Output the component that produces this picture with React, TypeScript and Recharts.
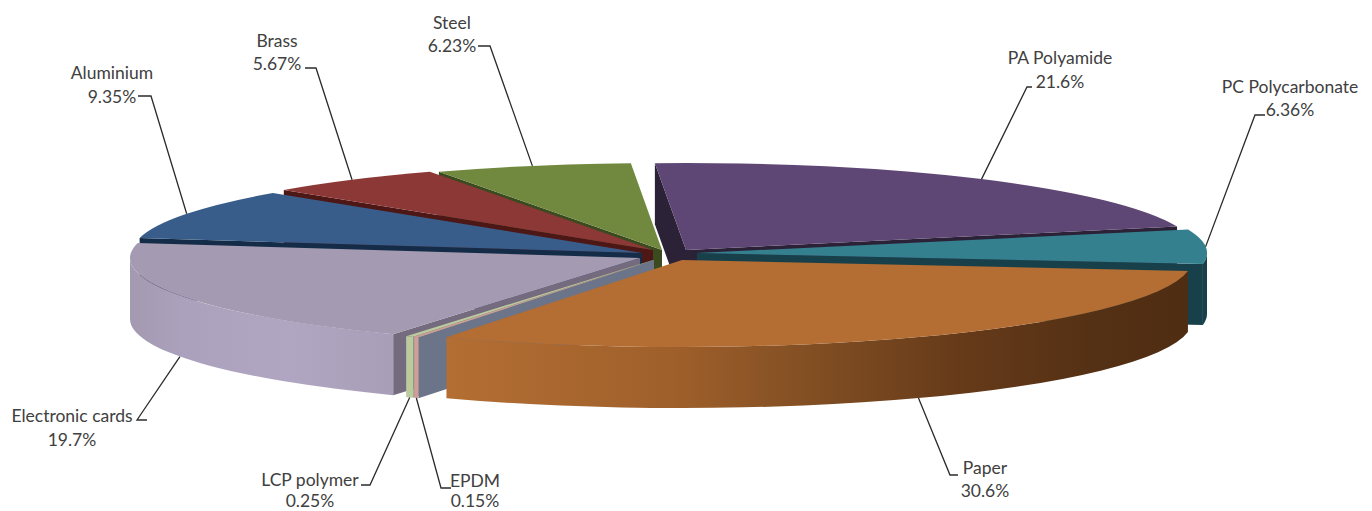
import React from "react";
import { PieChart, Pie } from "recharts";

const materials = ["PA Polyamide", "PC Polycarbonate", "Paper", "EPDM", "LCP polymer", "Electronic cards", "Aluminium", "Brass", "Steel"];
const shares = [21.6, 6.36, 30.6, 0.15, 0.25, 19.7, 9.35, 5.67, 6.23];
const percentLabels = ["21.6%", "6.36%", "30.6%", "0.15%", "0.25%", "19.7%", "9.35%", "5.67%", "6.23%"];

const rows = materials.map((material, i) => ({ material, share: shares[i], text: percentLabels[i] }));

// styling and layout, by slice index
const topColors = ["#5f4775", "#35808f", "#b46d32", "#cf9e9b", "#bccb9f", "#a49ab2", "#385d8a", "#8c3836", "#71893f"];
const faceColors = ["#2b2238", "#17404b", "#5a3416", "#6b7488", "#8a9570", "#756b7f", "#142c47", "#4d1716", "#3b4a1f"];
const rimStops: [number, string][][] = [
  [[0, "#2b2238"]],
  [[0, "#1a3f49"]],
  [[0, "#b36e33"], [0.3, "#a0602b"], [0.475, "#845024"], [0.7, "#653a19"], [0.88, "#543014"], [1, "#4f2d12"]],
  [[0, "#cf9e9b"]],
  [[0, "#bccb9f"]],
  [[0, "#a399b0"], [0.2, "#aca1bc"], [0.6, "#b1a6c1"], [1, "#a99eb8"]],
  [[0, "#2b4669"]],
  [[0, "#6a2a28"]],
  [[0, "#56692f"]],
];
const explode = [[24, -6], [35, -3], [20, 4], [-8, 4], [-9, 4], [-22, 2], [-20, -3], [-9, -6], [0, -6]];
const paintOrder = [8, 7, 6, 0, 1, 5, 4, 3, 2];
const labelCenters = [[1060, 57], [1290, 86], [985, 467], [475, 480], [310, 479], [72, 415], [112, 72], [277, 40], [452, 22]];
const labelLineGap = [24, 23, 23, 20, 21, 24, 24, 23, 23];
const leaderElbows = [[[1032, 87], [1027, 87]], [[1265, 115], [1255, 115]], [[958, 475], [950, 475]], [[451, 488], [441, 488]], [[361, 485], [370, 485]], [[147, 420], [137, 420]], [[138, 96], [151, 96]], [[305, 68], [316, 68]], [[478, 46], [490, 46]]];

const W = 1372;
const H = 511;
const CX = 662;
const CY = 256;
const RX = 510;
const RY = 87;
const DEPTH = 61;
const FONT = "Lato, 'Open Sans', sans-serif";

const rad = (d: number) => (d * Math.PI) / 180;
const onDisc = (cx: number, cy: number, rx: number, i: number, theta: number, down = 0) => {
  const ry = (rx * RY) / RX;
  return [cx + explode[i][0] + rx * Math.sin(rad(theta)), cy + explode[i][1] - ry * Math.cos(rad(theta)) + down];
};

function sliceShape(only: number) {
  return function Slice(props: any) {
    const { index, cx, cy, outerRadius: rx, startAngle, endAngle } = props;
    if (index !== only) return <g />;
    const ry = (rx * RY) / RX;
    const a = 90 - startAngle;
    const b = 90 - endAngle;
    const p = (t: number, down = 0) => onDisc(cx, cy, rx, index, t, down);
    const apex = [cx + explode[index][0], cy + explode[index][1]];
    const large = b - a > 180 ? 1 : 0;
    const top = `M${apex} L${p(a)} A${rx} ${ry} 0 ${large} 1 ${p(b)} Z`;
    const quad = (t: number) => `M${apex} L${p(t)} L${p(t, DEPTH)} L${apex[0]} ${apex[1] + DEPTH} Z`;
    const ra = Math.max(a, 90);
    const rb = Math.min(b, 270);
    const stops = rimStops[index];
    const gid = `rim-${index}`;
    const xs = [p(ra)[0], p(rb)[0], apex[0] - rx, apex[0] + rx];
    const x1 = a < 270 && b > 270 ? xs[2] : Math.min(xs[0], xs[1]);
    const x2 = Math.max(xs[0], xs[1]);
    return (
      <g>
        <defs>
          <linearGradient id={gid} gradientUnits="userSpaceOnUse" x1={x1} x2={x2} y1={0} y2={0}>
            {stops.map(([o, c]) => (
              <stop key={o} offset={o} stopColor={c} />
            ))}
          </linearGradient>
        </defs>
        {Math.sin(rad(a)) < 0 && <path d={quad(a)} fill={faceColors[index]} />}
        {Math.sin(rad(b)) > 0 && <path d={quad(b)} fill={faceColors[index]} />}
        {ra < rb && (
          <path
            d={`M${p(ra)} A${rx} ${ry} 0 0 ${1} ${p(rb)} L${p(rb, DEPTH)} A${rx} ${ry} 0 0 0 ${p(ra, DEPTH)} Z`}
            fill={`url(#${gid})`}
          />
        )}
        <path d={top} fill={topColors[index]} />
      </g>
    );
  };
}

function renderLabel(props: any) {
  const { index, cx, cy, outerRadius: rx, midAngle } = props;
  const row = rows[index];
  const t = 90 - midAngle;
  const front = Math.cos(rad(t)) < 0;
  const end = onDisc(cx, cy, rx, index, t, front ? DEPTH : 0);
  const [c, e] = leaderElbows[index];
  const [lx, ly] = labelCenters[index];
  const style = { fontFamily: FONT, fontSize: 17.5, fill: "#404040" };
  return (
    <g key={row.material}>
      <polyline points={`${c} ${e} ${end}`} fill="none" stroke="#2b2b2b" strokeWidth={1.3} />
      <text x={lx} y={ly} textAnchor="middle" dominantBaseline="central" style={style}>
        {row.material}
      </text>
      <text x={lx} y={ly + labelLineGap[index]} textAnchor="middle" dominantBaseline="central" style={style}>
        {row.text}
      </text>
    </g>
  );
}

export default function App() {
  return (
    <div style={{ position: "absolute", left: 0, top: 0, width: W, height: H, background: "#fff" }}>
      <PieChart width={W} height={H} margin={{ top: 0, right: 0, bottom: 0, left: 0 }}>
        {paintOrder.map((i, n) => (
          <Pie
            key={i}
            data={rows}
            dataKey="share"
            nameKey="material"
            cx={CX}
            cy={CY}
            innerRadius={0}
            outerRadius={RX}
            startAngle={93.5}
            endAngle={-266.5}
            stroke="none"
            isAnimationActive={false}
            shape={sliceShape(i)}
            labelLine={false}
            label={n === paintOrder.length - 1 ? renderLabel : false}
          />
        ))}
      </PieChart>
    </div>
  );
}
